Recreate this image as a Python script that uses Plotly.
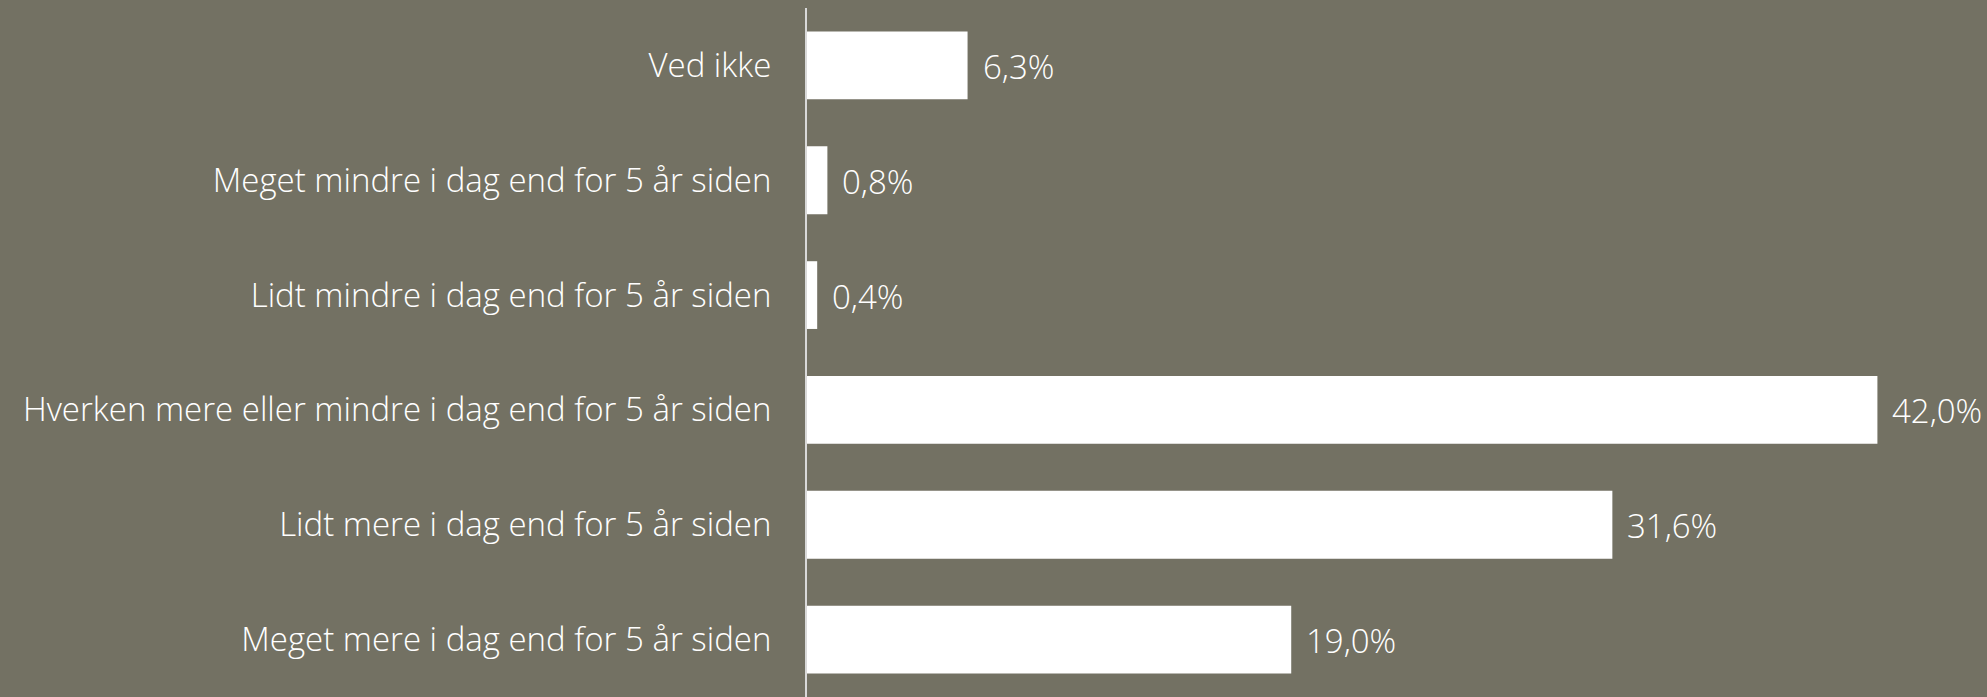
import plotly.graph_objects as go

categories = [
    "Ved ikke",
    "Meget mindre i dag end for 5 år siden",
    "Lidt mindre i dag end for 5 år siden",
    "Hverken mere eller mindre i dag end for 5 år siden",
    "Lidt mere i dag end for 5 år siden",
    "Meget mere i dag end for 5 år siden",
]
values = [6.3, 0.8, 0.4, 42.0, 31.6, 19.0]
labels = ["6,3%", "0,8%", "0,4%", "42,0%", "31,6%", "19,0%"]

BG = "#737163"
FONT = "Open Sans"

fig = go.Figure()
fig.add_trace(go.Bar(
    y=categories, x=values, orientation="h",
    marker=dict(color="white", line=dict(width=0)),
    hoverinfo="skip",
))

for c, v, t in zip(categories, values, labels):
    fig.add_annotation(x=v, y=c, text=t, showarrow=False, xanchor="left",
                       xshift=13, yshift=-1,
                       font=dict(family=FONT, size=33, color="white", weight=300))

fig.update_layout(
    width=1987, height=697,
    paper_bgcolor=BG, plot_bgcolor=BG,
    margin=dict(l=807, r=0, t=8, b=0),
    bargap=0.41,
    showlegend=False,
    font=dict(family=FONT, color="white"),
)
fig.update_xaxes(range=[0, 46.3], visible=False, showgrid=False, zeroline=False)
fig.update_yaxes(
    categoryorder="array", categoryarray=categories, autorange="reversed",
    showgrid=False, zeroline=False,
    showline=True, linecolor="#d9d9d9", linewidth=2,
    ticks="", ticklabelstandoff=27,
    tickfont=dict(family=FONT, size=33, color="white", weight=300),
)

fig.write_html(
    "out.html",
    config={"displayModeBar": False},
    post_script="document.body.style.margin='0';document.body.style.background='%s';" % BG,
)
